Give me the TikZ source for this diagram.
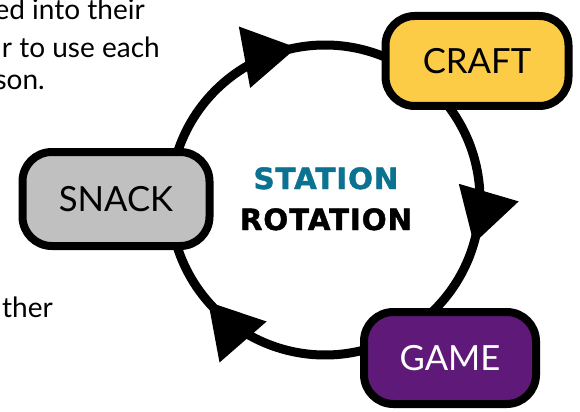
\documentclass[tikz,border=0pt]{standalone}
\usepackage{fontspec}
\setmainfont{Lato}
\newfontfamily\titlefont[LetterSpace=3,BoldFeatures={FakeBold=1.5}]{DejaVu Sans}
\usetikzlibrary{arrows.meta,decorations.markings,calc}
\definecolor{craftyellow}{RGB}{253,204,71}
\definecolor{gamepurple}{RGB}{95,25,120}
\definecolor{snackgray}{RGB}{192,192,192}
\definecolor{stationteal}{RGB}{11,114,145}
\tikzset{
  stationbox/.style={draw=black, line width=6pt, rounded corners=22pt, inner sep=0pt,
    font=\fontsize{26}{30}\selectfont},
  ring/.style={line width=6.75pt, draw=black},
  ringarrow/.style={postaction={decorate}, decoration={markings,
    mark=at position #1 with {\arrow{Triangle[length=40pt,width=45pt]}}}},
  sidetext/.style={anchor=base east, inner sep=0pt, font=\fontsize{21}{25}\selectfont},
  titletext/.style={anchor=base, inner sep=0pt, font=\titlefont\bfseries\fontsize{22}{26}\selectfont}
}
\begin{document}
\begin{tikzpicture}[x=0.75pt,y=0.75pt]
\useasboundingbox (0,0) rectangle (580,411);
\clip (0,0) rectangle (580,411);
% ring centre and arc ends
\coordinate (c) at (325,211);
\coordinate (a1) at ($(c)+(163:155)$);
\coordinate (b1) at ($(c)+(38:155)$);
\coordinate (g1) at ($(c)+(-74:155)$);
% connectors (ring arcs)
\draw[ring, ringarrow=0.645] (a1) arc[start angle=163, end angle=66, radius=155];
\draw[ring, ringarrow=0.640] (b1) arc[start angle=38, end angle=-47, radius=155];
\draw[ring, ringarrow=0.714] (g1) arc[start angle=-74, end angle=-165, radius=155];
% stations
\node[stationbox, fill=snackgray, minimum width=140.25pt, minimum height=70.5pt] (snack) at (116,212) {SNACK};
\node[stationbox, fill=craftyellow, minimum width=137.25pt, minimum height=67.5pt] (craft) at (477,350) {CRAFT};
\node[stationbox, fill=gamepurple, text=white, minimum width=129pt, minimum height=69pt] (game) at (450,53) {GAME};
% centre title
\node[titletext, text=stationteal] (station) at (326,222) {STATION};
\node[titletext, text=black] (rotation) at (326,181) {ROTATION};
% side text (cut off at the left edge)
\node[sidetext] (t1) at (145,391) {ed into their};
\node[sidetext] (t2) at (160,353) {r to use each};
\node[sidetext] (t3) at (45,321) {son.};
\node[sidetext] (t4) at (53,94) {ther};
\end{tikzpicture}
\end{document}
